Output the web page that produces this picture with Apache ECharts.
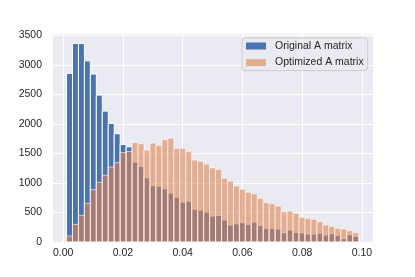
<!DOCTYPE html>
<html><head><meta charset="utf-8">
<script src="https://cdn.jsdelivr.net/npm/echarts@6/dist/echarts.min.js"></script>
<style>html,body{margin:0;padding:0;background:#fff}#c{width:415px;height:277px}</style>
</head><body><div id="c"></div>
<script>
// Histogram definition (49 bins)
const binStart = 0.00114;
const binWidth = 0.001995;
const originalCounts = [2858, 3366, 3366, 3071, 2846, 2490, 2219, 2010, 1835, 1654,
  1614, 1355, 1282, 1089, 957, 948, 900, 830, 757, 676,
  694, 559, 542, 508, 440, 449, 373, 288, 308, 327,
  299, 339, 282, 232, 232, 220, 158, 203, 164, 155,
  135, 135, 152, 118, 141, 113, 56, 124, 96];
const optimizedCounts = [102, 299, 451, 655, 886, 1011, 1130, 1270, 1344, 1516,
  1533, 1688, 1665, 1558, 1677, 1637, 1733, 1759, 1587, 1587,
  1538, 1389, 1370, 1321, 1256, 1231, 1079, 1033, 950, 895,
  842, 818, 740, 666, 649, 610, 514, 525, 486, 418,
  401, 384, 344, 288, 266, 232, 220, 192, 158];
const seriesNames = ['Original A matrix', 'Optimized A matrix'];
const xTickValues = [0, 0.02, 0.04, 0.06, 0.08, 0.10];
const yTickValues = [0, 500, 1000, 1500, 2000, 2500, 3000, 3500];

const FONT = '"Liberation Sans", Arial, sans-serif';
const BLUE = '#4C72B0', ORANGE = '#DD8452';

function toData(counts) {
  return counts.map((c, i) => [binStart + i * binWidth, binStart + (i + 1) * binWidth, c]);
}
function renderer(fill, opacity) {
  return function (params, api) {
    const p0 = api.coord([api.value(0), api.value(2)]);
    const p1 = api.coord([api.value(1), 0]);
    return {
      type: 'rect',
      shape: { x: p0[0], y: p0[1], width: p1[0] - p0[0], height: p1[1] - p0[1] },
      style: { fill: fill, stroke: '#ffffff', lineWidth: 1, opacity: opacity }
    };
  };
}

const chart = echarts.init(document.getElementById('c'), null, { renderer: 'canvas' });
chart.setOption({
  animation: false,
  backgroundColor: '#ffffff',
  textStyle: { fontFamily: FONT },
  grid: { left: 52, right: 42, top: 33.5, bottom: 35, show: true, backgroundColor: '#EAEAF2', borderWidth: 0 },
  xAxis: {
    type: 'value', min: -0.00372, max: 0.1037, splitNumber: 5, minInterval: 0.02, maxInterval: 0.02,
    axisLine: { show: false }, axisTick: { show: false },
    splitLine: { show: true, lineStyle: { color: '#ffffff', width: 1 } },
    axisLabel: {
      showMinLabel: false, showMaxLabel: false, margin: 6,
      color: '#262626', fontSize: 10.5, fontFamily: FONT,
      formatter: v => {
        const hit = xTickValues.find(t => Math.abs(t - v) < 1e-9);
        return hit === undefined ? '' : hit.toFixed(2);
      }
    }
  },
  yAxis: {
    type: 'value', min: 0, max: 3534, interval: 500,
    axisLine: { show: false }, axisTick: { show: false },
    splitLine: { show: true, lineStyle: { color: '#ffffff', width: 1 } },
    axisLabel: {
      showMaxLabel: false, margin: 10,
      color: '#262626', fontSize: 10.5, fontFamily: FONT,
      formatter: v => (yTickValues.indexOf(v) >= 0 ? String(v) : '')
    }
  },
  legend: {
    orient: 'vertical', left: 242, top: 38,
    padding: [2, 4, 2, 4], itemGap: 4.6, itemWidth: 20, itemHeight: 7,
    backgroundColor: 'rgba(234,234,242,0.8)', borderColor: '#cccccc', borderWidth: 1, borderRadius: 3,
    textStyle: { color: '#262626', fontSize: 10.5, fontFamily: FONT, lineHeight: 12, padding: [0, 0, 0, 4] },
    data: [
      { name: seriesNames[0], icon: 'rect', itemStyle: { color: BLUE, borderWidth: 0 } },
      { name: seriesNames[1], icon: 'rect', itemStyle: { color: 'rgba(221,132,82,0.6)', borderWidth: 0 } }
    ]
  },
  series: [
    { type: 'custom', name: seriesNames[0], data: toData(originalCounts), encode: { x: [0, 1], y: 2 },
      renderItem: renderer(BLUE, 1), itemStyle: { color: BLUE } },
    { type: 'custom', name: seriesNames[1], data: toData(optimizedCounts), encode: { x: [0, 1], y: 2 },
      renderItem: renderer(ORANGE, 0.6), itemStyle: { color: 'rgba(221,132,82,0.6)' } }
  ]
});
</script>
</body></html>
